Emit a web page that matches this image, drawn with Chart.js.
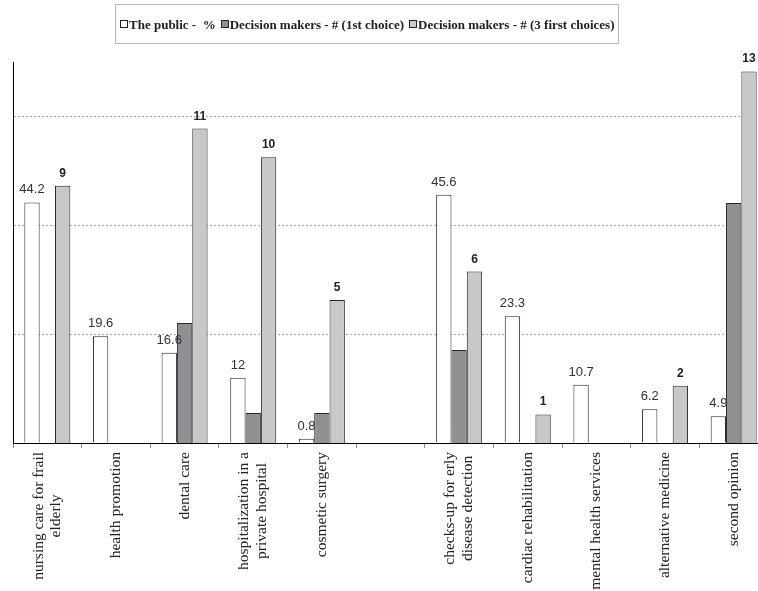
<!DOCTYPE html>
<html>
<head>
<meta charset="utf-8">
<script src="https://cdn.jsdelivr.net/npm/chart.js@4/dist/chart.umd.min.js"></script>
<style>
  html, body { margin: 0; padding: 0; background: #fff; overflow: hidden; width: 758px; height: 591px; }
  #wrap { position: relative; width: 770px; height: 591px; }
</style>
</head>
<body>
<div id="wrap"><canvas id="c" width="770" height="591"></canvas></div>
<script>
// Services (an empty slot separates the two groups)
const categories = [
  ["nursing care for frail", "elderly"],
  "health promotion",
  "dental care",
  ["hospitalization in a", "private hospital"],
  "cosmetic surgery",
  "",
  ["checks-up for erly", "disease detection"],
  "cardiac rehabilitation",
  "mental health services",
  "alternative medicine",
  "second opinion"
];

// The public, percent choosing the service
const publicPct = [44.2, 19.6, 16.6, 12, 0.8, null, 45.6, 23.3, 10.7, 6.2, 4.9];
// Decision makers, number naming it as first choice
const firstChoice = [null, null, 4.2, 1.05, 1.05, null, 3.25, null, null, null, 8.4];
// Decision makers, number naming it among the first three choices
const threeChoices = [9, null, 11, 10, 5, null, 6, 1, null, 2, 13];

const seriesNames = [
  "The public -  %",
  "Decision makers - # (1st choice)",
  "Decision makers - # (3 first choices)"
];

// Caption style per dataset (first-choice bars carry no caption)
const captionStyles = [
  { font: '13px "Liberation Sans", Arial, sans-serif', color: '#333' },
  null,
  { font: 'bold 12px "Liberation Sans", Arial, sans-serif', color: '#222' }
];

// Value captions above bars
const valueLabels = {
  id: 'valueLabels',
  afterDatasetsDraw(chart, args, opts) {
    const ctx = chart.ctx;
    chart.data.datasets.forEach((ds, di) => {
      const st = captionStyles[di];
      if (!st) return;
      const meta = chart.getDatasetMeta(di);
      meta.data.forEach((bar, i) => {
        const v = ds.data[i];
        if (v == null) return;
        ctx.save();
        ctx.font = st.font;
        ctx.fillStyle = st.color;
        ctx.textAlign = 'center';
        ctx.textBaseline = 'alphabetic';
        ctx.fillText(String(v), bar.x, bar.y - opts.gap);
        ctx.restore();
      });
    });
  }
};

// Center multi-line rotated category labels on their tick,
// with each line centered within the block
const centerMultiline = {
  id: 'centerMultiline',
  beforeDraw(chart) {
    const xs = chart.scales.x;
    const ctx = chart.ctx;
    const items = xs.getLabelItems(chart.chartArea);
    items.forEach(it => {
      if (Array.isArray(it.label) && it.label.length > 1 && !it._centered) {
        ctx.save();
        ctx.font = it.font.string;
        const maxW = Math.max(...it.label.map(s => ctx.measureText(s).width));
        ctx.restore();
        it.options.translation[0] -= (it.label.length - 1) * it.font.lineHeight / 2;
        it.options.translation[1] += maxW / 2;
        it.options.textAlign = 'center';
        it._centered = true;
      }
    });
  }
};

// Boxed legend in one row
const framedLegend = {
  id: 'framedLegend',
  afterDraw(chart, args, o) {
    const ctx = chart.ctx;
    ctx.save();
    ctx.font = o.font;
    const dsets = chart.data.datasets;
    const widths = dsets.map(d => ctx.measureText(d.label).width);
    const itemW = widths.map(w => o.box + o.boxGap + w);
    const inner = itemW.reduce((a, b) => a + b, 0) + o.itemGap * (itemW.length - 1);
    const frameW = inner + o.padL + o.padR;
    const left = Math.round(o.centerX - frameW / 2);
    ctx.strokeStyle = o.frameColor;
    ctx.lineWidth = 1;
    ctx.strokeRect(left + 0.5, o.top + 0.5, Math.round(frameW), o.height);
    let x = left + o.padL;
    const boxTop = o.top + (o.height - o.box) / 2;
    dsets.forEach((d, i) => {
      ctx.fillStyle = d.backgroundColor;
      ctx.fillRect(Math.round(x) + 0.5, Math.round(boxTop) + 0.5, o.box, o.box);
      ctx.strokeStyle = '#222';
      ctx.strokeRect(Math.round(x) + 0.5, Math.round(boxTop) + 0.5, o.box, o.box);
      ctx.fillStyle = o.color;
      ctx.textBaseline = 'alphabetic';
      ctx.textAlign = 'left';
      ctx.fillText(d.label, x + o.box + o.boxGap, o.top + o.baseline);
      x += itemW[i] + o.itemGap;
    });
    ctx.restore();
  }
};

new Chart(document.getElementById('c'), {
  type: 'bar',
  data: {
    labels: categories,
    datasets: [
      { label: seriesNames[0], data: publicPct, yAxisID: 'y',
        backgroundColor: '#ffffff', borderColor: '#2a2a2a', borderWidth: 1 },
      { label: seriesNames[1], data: firstChoice, yAxisID: 'y2',
        backgroundColor: '#8f9094', borderColor: '#2a2a2a', borderWidth: 1 },
      { label: seriesNames[2], data: threeChoices, yAxisID: 'y2',
        backgroundColor: '#c7c8ca', borderColor: '#2a2a2a', borderWidth: 1 }
    ]
  },
  options: {
    responsive: false,
    animation: false,
    devicePixelRatio: 1,
    datasets: { bar: { categoryPercentage: 0.67, barPercentage: 1 } },
    layout: { padding: { top: 62, left: 13, right: 2, bottom: 0 } },
    plugins: {
      legend: { display: false },
      tooltip: { enabled: false },
      valueLabels: { gap: 9 },
      framedLegend: {
        font: 'bold 13px "Liberation Serif", "Times New Roman", serif',
        color: '#222',
        frameColor: '#b8b8b8',
        centerX: 366.5,
        top: 4,
        height: 39,
        baseline: 24.5,
        box: 7,
        boxGap: 2,
        itemGap: 5,
        padL: 5,
        padR: 4
      }
    },
    scales: {
      x: {
        offset: true,
        grid: { offset: true, drawOnChartArea: false, drawTicks: true, tickLength: 5, color: '#8a8a8a' },
        border: { display: true, color: '#000', width: 1 },
        ticks: {
          autoSkip: false, minRotation: 90, maxRotation: 90, padding: 4, color: '#222',
          font: { family: '"Liberation Serif", "Times New Roman", serif', size: 15.5, lineHeight: 1.14 }
        },
        afterFit(s) { s.height = 148; }
      },
      y: {
        position: 'left',
        min: 0, max: 70,
        ticks: { display: false, stepSize: 20 },
        grid: {
          drawTicks: false,
          lineWidth: 1,
          color: c => (c.tick && c.tick.value > 0 && c.tick.value < 70) ? '#aaaaaa' : 'rgba(0,0,0,0)'
        },
        border: { display: true, color: '#000', width: 1, dash: [2, 2] },
        afterFit(s) { s.width = 0; }
      },
      y2: { display: false, min: 0, max: 13.33 }
    }
  },
  plugins: [centerMultiline, valueLabels, framedLegend]
});
</script>
</body>
</html>
